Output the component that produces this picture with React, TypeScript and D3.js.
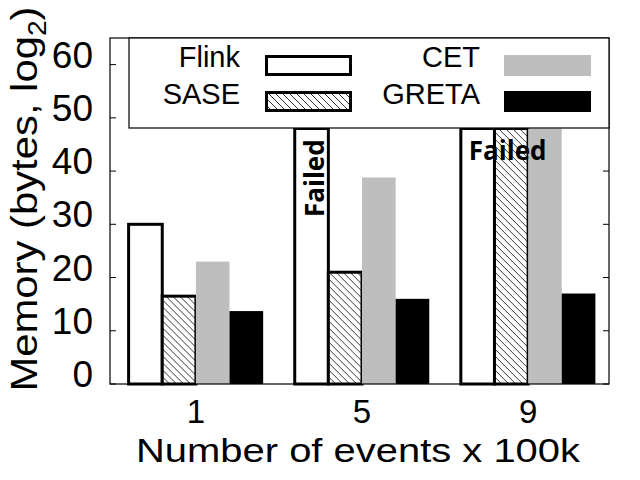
import * as d3 from 'd3'

const categories = ['1', '5', '9']
const seriesNames = ['Flink', 'SASE', 'CET', 'GRETA']
const flink = [30, 48, 48]
const sase = [16.5, 21, 48]
const cet = [23, 38.8, 48]
const greta = [13.7, 16, 17]
const yTicks = [0, 10, 20, 30, 40, 50, 60]
// which bars ran out of memory
const failed = [[false, true, false], [false, false, true]]

const series = [flink, sase, cet, greta]

const W = 640
const H = 480
const frame = { left: 110, right: 609, top: 38, bottom: 384 }

const font = '"Liberation Sans", Arial, sans-serif'

const styles = [
  { fill: '#fff', stroke: '#000' },
  { fill: 'url(#hatch)', stroke: '#000' },
  { fill: '#bebebe', stroke: 'none' },
  { fill: '#000', stroke: 'none' }
]

export default function App() {
  const y = d3.scaleLinear().domain([0, 65]).range([frame.bottom, frame.top])

  const x0 = d3.scaleBand()
    .domain(categories)
    .range([112, 612])
    .paddingInner(0.19)
    .paddingOuter(0.1)

  const x1 = d3.scaleBand()
    .domain(seriesNames)
    .range([0, x0.bandwidth()])

  const sw = 3

  return (
    <svg
      width={W}
      height={H}
      viewBox={`0 0 ${W} ${H}`}
      style={{ position: 'absolute', left: 0, top: 0, background: '#fff', fontFamily: font }}
    >
      <defs>
        <pattern id="hatch" patternUnits="userSpaceOnUse" width={7} height={7}>
          <rect width={7} height={7} fill="#fff" />
          <path d="M0,0 L7,7 M-1,6 L1,8 M6,-1 L8,1" stroke="#000" strokeWidth={0.8} />
        </pattern>
      </defs>

      {/* bars */}
      {categories.map((c, ci) => (
        <g key={c} transform={`translate(${x0(c)},0)`}>
          {seriesNames.map((s, si) => {
            const v = series[si][ci]
            const st = styles[si]
            const top = y(v)
            return (
              <rect
                key={s}
                x={x1(s)}
                y={top}
                width={x1.bandwidth()}
                height={frame.bottom - top}
                fill={st.fill}
                stroke={st.stroke}
                strokeWidth={st.stroke === 'none' ? 0 : sw}
              />
            )
          })}
        </g>
      ))}

      {/* frame */}
      <rect
        x={frame.left}
        y={frame.top}
        width={frame.right - frame.left}
        height={frame.bottom - frame.top}
        fill="none"
        stroke="#000"
        strokeWidth={1.2}
      />

      {/* y ticks */}
      {yTicks.map(t => (
        <g key={t}>
          <line x1={frame.left} x2={frame.left + 6} y1={y(t)} y2={y(t)} stroke="#000" />
          <line x1={frame.right} x2={frame.right - 6} y1={y(t)} y2={y(t)} stroke="#000" />
          <text x={93} y={y(t) + 3} textAnchor="end" fontSize={37}>{t}</text>
        </g>
      ))}

      {/* x ticks */}
      {categories.map(c => {
        const cx = x0(c) + x0.bandwidth() / 2
        return (
          <g key={c}>
            <line x1={cx} x2={cx} y1={frame.top} y2={frame.top + 6} stroke="#000" />
            <text x={cx} y={423} textAnchor="middle" fontSize={33}>{c}</text>
          </g>
        )
      })}

      {/* legend */}
      <rect x={129} y={frame.top} width={frame.right - 129} height={128 - frame.top} fill="#fff" stroke="#000" strokeWidth={1.2} />
      {seriesNames.map((s, i) => {
        const col = Math.floor(i / 2)
        const row = i % 2
        const textRight = col === 0 ? 240 : 480
        const sx = col === 0 ? 265 : 504
        const baseline = row === 0 ? 67 : 104
        const sy = row === 0 ? 55 : 91
        const st = styles[i]
        return (
          <g key={s}>
            <text x={textRight} y={baseline} textAnchor="end" fontSize={29}>{s}</text>
            {st.stroke === 'none'
              ? <rect x={sx} y={sy} width={87} height={21} fill={st.fill} />
              : <rect x={sx + 1.5} y={sy + 1.5} width={84} height={18} fill={st.fill} stroke="#000" strokeWidth={3} />}
          </g>
        )
      })}

      {/* failed labels */}
      {failed[0].map((f, ci) => f && (
        <text
          key={'v' + ci}
          transform={`translate(${x0(categories[ci]) + x1.bandwidth() / 2 + 12},217) rotate(-90)`}
          fontFamily='"Open Sans", sans-serif'
          fontWeight="bold"
          fontSize={26}
        >Failed</text>
      ))}
      {failed[1].map((f, ci) => f && (
        <text
          key={'h' + ci}
          x={x0(categories[ci]) + 8}
          y={160}
          fontFamily='"Open Sans", sans-serif'
          fontWeight="bold"
          fontSize={26}
        >Failed</text>
      ))}

      {/* axis titles */}
      <text
        x={358}
        y={462}
        textAnchor="middle"
        fontSize={33}
        textLength={444}
        lengthAdjust="spacingAndGlyphs"
      >Number of events x 100k</text>
      <g transform="translate(37,199) rotate(-90) scale(1.13,1)">
        <text textAnchor="middle" fontSize={37}>
          Memory (bytes, log<tspan fontSize={25} dy={9}>2</tspan><tspan dy={-9}>)</tspan>
        </text>
      </g>
    </svg>
  )
}
